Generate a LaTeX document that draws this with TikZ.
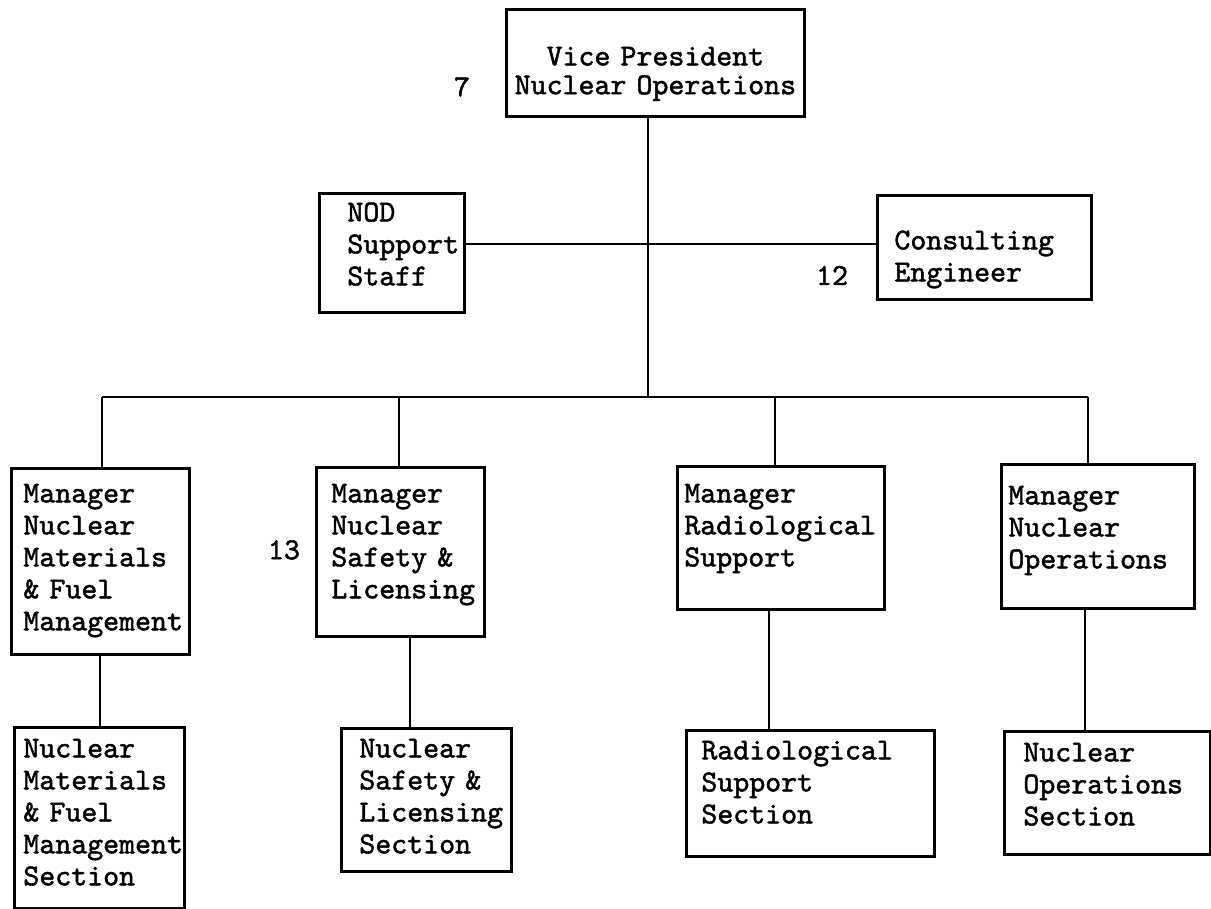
\documentclass[tikz,border=0pt]{standalone}
\usepackage{fontspec}
\usepackage{tikz}
\newfontfamily\orgtt{lmmono10-regular}[Extension=.otf, FakeBold=1.6]
\newdimen\px
\px=0.02cm
\NewDocumentCommand{\orgfont}{}{\orgtt\fontsize{17.3}{18.2}\selectfont}
\NewDocumentCommand{\vpfont}{}{\orgtt\fontsize{17.3}{16.4}\selectfont}

\begin{document}
\begin{tikzpicture}[x=0.02cm, y=-0.02cm, line width=1.6pt,
		unit/.style={draw, anchor=north west, align=left, inner ysep=0pt, font=\orgfont},
		num/.style={font=\orgfont}]
		\useasboundingbox (0,0) rectangle (1211,909);
		\path (505,8) node [unit, align=center, inner xsep=3\px, text width=292\px, text height=56\px, text depth=51\px, font=\vpfont] (vp) {Vice President\\Nuclear Operations};
		\path (vp.west) ++(-43, 24) node [num] (n7) {7};
		\path (vp.north west) ++(-187, 184) node [unit, inner xsep=28\px, text width=89\px, text height=28\px, text depth=91\px] (nod) {NOD\\Support\\Staff};
		\path (vp.north west) ++(371, 186) node [unit, inner xsep=17\px, text width=180\px, text height=54\px, text depth=50\px] (ce) {Consulting\\Engineer};
		\path (ce.west) ++(-44, 28) node [num] (n12) {12};

		\path (vp.north west) ++(-495, 459) node [unit, inner xsep=12\px, text width=154\px, text height=34\px, text depth=152\px] (mfm) {Manager\\Nuclear\\Materials\\\& Fuel\\Management};
		\path (mfm.north west) ++(305, -1) node [unit, inner xsep=15\px, text width=138\px, text height=35\px, text depth=134\px] (msl) {Manager\\Nuclear\\Safety \&\\Licensing};
		\path (msl.west) ++(-31, -2) node [num] (n13) {13};
		\path (msl.north west) ++(361, -1) node [unit, inner xsep=7\px, text width=193\px, text height=36\px, text depth=107\px] (mrs) {Manager\\Radiological\\Support};
		\path (mrs.north west) ++(324, -2) node [unit, inner xsep=7\px, text width=179\px, text height=40\px, text depth=104\px] (mno) {Manager\\Nuclear\\Operations};

		\path (mfm.north west) ++(3, 259) node [unit, inner xsep=9\px, text width=152\px, text height=30\px, text depth=151\px] (nmf) {Nuclear\\Materials\\\& Fuel\\Management\\Section};
		\path (msl.north west) ++(25, 261) node [unit, inner xsep=18\px, text width=134\px, text height=29\px, text depth=114\px] (nsl) {Nuclear\\Safety \&\\Licensing\\Section};
		\path (mrs.north west) ++(9, 264) node [unit, inner xsep=15\px, text width=218\px, text height=29\px, text depth=97\px] (rs) {Radiological\\Support\\Section};
		\path (mno.north west) ++(3, 267) node [unit, inner xsep=19\px, text width=168\px, text height=30\px, text depth=93\px] (nos) {Nuclear\\Operations\\Section};

		\coordinate (hub) at (648, 397);
		\coordinate (staff) at (648, 244);
		\foreach \n/\x in {1/102, 2/399, 3/775, 4/1088}
			\coordinate (d\n) at (\x, 397);
		\foreach \n/\x in {1/100, 2/410, 3/769, 4/1085}
			\coordinate (e\n) at (\x, 0);

		\draw (vp.south -| hub) -- (hub);
		\draw (nod.east |- staff) -- (ce.west |- staff);
		\draw (d1) -- (d4);
		\foreach \d/\m in {d1/mfm, d2/msl, d3/mrs, d4/mno}
			\draw (\d) -- (\d |- \m.north);
		\foreach \e/\m/\s in {e1/mfm/nmf, e2/msl/nsl, e3/mrs/rs, e4/mno/nos}
			\draw (\e |- \m.south) -- (\e |- \s.north);
	\end{tikzpicture}
\end{document}
